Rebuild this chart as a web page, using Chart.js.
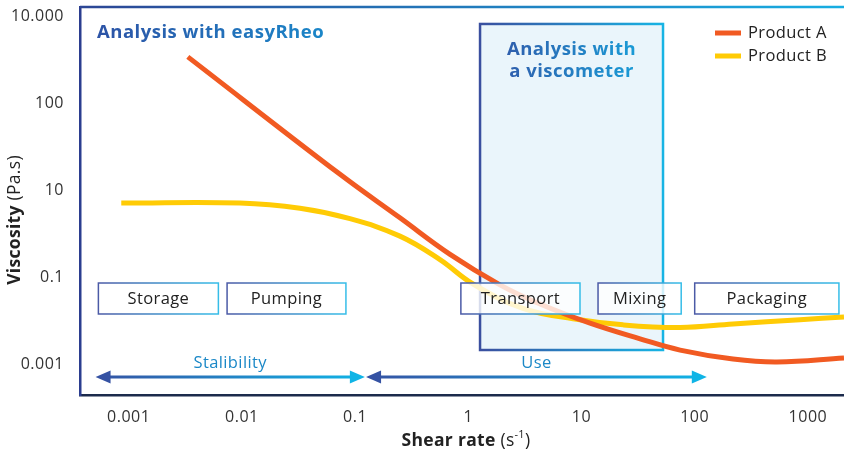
<!DOCTYPE html>
<html>
<head>
<meta charset="utf-8">
<script src="https://cdn.jsdelivr.net/npm/chart.js@4.4.0/dist/chart.umd.min.js"></script>
<style>
  html, body { margin: 0; padding: 0; background: #fff; }
  #wrap { width: 844px; height: 454px; position: relative; }
</style>
</head>
<body>
<div id="wrap"><canvas id="viscosityChart"></canvas></div>
<script>
const FONT = '"Open Sans", sans-serif';

// shear rate in 1/s, viscosity as the step index of the y ticks
const productAShear = [0.00333, 0.0736, 0.249, 0.69, 1.905, 4.3, 11.9, 32.9, 74.3, 218, 533, 2084, 2200];
const productALevel = [3.53, 2.18, 1.68, 1.26, 0.91, 0.69, 0.47, 0.29, 0.16, 0.057, 0.023, 0.069, 0.072];
const productBShear = [0.00086, 0.0096, 0.0326, 0.0901, 0.249, 0.562, 1.1, 3.04, 8.41, 23.3, 74.3, 218, 851, 2084, 2200];
const productBLevel = [1.85, 1.85, 1.79, 1.67, 1.47, 1.2, 0.92, 0.64, 0.52, 0.45, 0.42, 0.46, 0.51, 0.54, 0.545];

const xTickValues = [0.001, 0.01, 0.1, 1, 10, 100, 1000];
const xTickLabels = ['0.001', '0.01', '0.1', '1', '10', '100', '1000'];
const yTickLabels = ['0.001', '0.1', '10', '100', '10.000'];

const stageNames = ['Storage', 'Pumping', 'Transport', 'Mixing', 'Packaging'];
const stageFrom = [0.00054, 0.0074, 0.86, 14, 100];
const stageTo = [0.0062, 0.083, 9.7, 76, 1880];

const rangeNames = ['Stalibility', 'Use'];
const rangeFrom = [0.00051, 0.125];
const rangeTo = [0.122, 128];

// where the viscometer can measure
const viscometerFrom = 1.27;
const viscometerTo = 52.5;

const toPoints = (xs, ys) => xs.map((x, i) => ({ x: x, y: ys[i] }));

const hGrad = (ctx, x1, x2, c1, c2) => {
  const g = ctx.createLinearGradient(x1, 0, x2, 0);
  g.addColorStop(0, c1);
  g.addColorStop(1, c2);
  return g;
};

const drawArrow = (ctx, x1, x2, y) => {
  const head = 15;
  const half = 6.5;
  ctx.strokeStyle = hGrad(ctx, x1, x2, '#3552a3', '#0fb4e6');
  ctx.lineWidth = 3;
  ctx.beginPath();
  ctx.moveTo(x1 + head - 2, y);
  ctx.lineTo(x2 - head + 2, y);
  ctx.stroke();
  ctx.fillStyle = '#3552a3';
  ctx.beginPath();
  ctx.moveTo(x1, y);
  ctx.lineTo(x1 + head, y - half);
  ctx.lineTo(x1 + head, y + half);
  ctx.closePath();
  ctx.fill();
  ctx.fillStyle = '#0fb4e6';
  ctx.beginPath();
  ctx.moveTo(x2, y);
  ctx.lineTo(x2 - head, y - half);
  ctx.lineTo(x2 - head, y + half);
  ctx.closePath();
  ctx.fill();
};

const decorations = {
  id: 'decorations',
  beforeDraw(chart) {
    // wider lettering, closer to the original typeface
    chart.ctx.letterSpacing = '0.5px';
  },
  beforeDatasetsDraw(chart) {
    const { ctx, chartArea, scales: { x, y } } = chart;
    ctx.save();

    // viscometer window
    const bx1 = x.getPixelForValue(viscometerFrom);
    const bx2 = x.getPixelForValue(viscometerTo);
    const by1 = y.getPixelForValue(3.908);
    const by2 = y.getPixelForValue(0.161);
    ctx.fillStyle = '#eaf5fb';
    ctx.fillRect(bx1, by1, bx2 - bx1, by2 - by1);
    ctx.strokeStyle = hGrad(ctx, bx1, bx2, '#3a4f9f', '#17b4e4');
    ctx.lineWidth = 2.5;
    ctx.strokeRect(bx1, by1, bx2 - bx1, by2 - by1);

    ctx.letterSpacing = '0.5px';
    ctx.textAlign = 'center';
    ctx.textBaseline = 'middle';
    ctx.font = 'bold 18.5px ' + FONT;
    const cx = (bx1 + bx2) / 2;
    ctx.fillStyle = hGrad(ctx, cx - 65, cx + 65, '#2f5fad', '#1a9bd6');
    ctx.fillText('Analysis with', cx, by1 + 26);
    ctx.fillText('a viscometer', cx, by1 + 48);

    ctx.textAlign = 'left';
    ctx.fillStyle = hGrad(ctx, chartArea.left + 17, chartArea.left + 242, '#2d53a6', '#1b86c8');
    ctx.fillText('Analysis with easyRheo', chartArea.left + 17, chartArea.top + 26);

    // top frame line
    ctx.strokeStyle = hGrad(ctx, chartArea.left, chartArea.right, '#2c4695', '#17aee2');
    ctx.lineWidth = 2.5;
    ctx.beginPath();
    ctx.moveTo(chartArea.left, chartArea.top);
    ctx.lineTo(chartArea.right, chartArea.top);
    ctx.stroke();
    ctx.restore();
  },
  afterDatasetsDraw(chart) {
    const { ctx, chartArea, scales: { x, y } } = chart;
    ctx.save();
    ctx.letterSpacing = '0.4px';

    // process stages
    const sTop = y.getPixelForValue(0.931);
    const sBot = y.getPixelForValue(0.575);
    ctx.font = '16.5px ' + FONT;
    ctx.textAlign = 'center';
    ctx.textBaseline = 'middle';
    stageNames.forEach((name, i) => {
      const x1 = x.getPixelForValue(stageFrom[i]);
      const x2 = x.getPixelForValue(stageTo[i]);
      ctx.fillStyle = 'rgba(255,255,255,0.8)';
      ctx.fillRect(x1, sTop, x2 - x1, sBot - sTop);
      ctx.strokeStyle = hGrad(ctx, x1, x2, '#4b5aa6', '#36bde8');
      ctx.lineWidth = 1.5;
      ctx.strokeRect(x1, sTop, x2 - x1, sBot - sTop);
      ctx.fillStyle = '#222';
      ctx.fillText(name, (x1 + x2) / 2, (sTop + sBot) / 2 + 1);
    });

    // stability / use ranges
    const ay = y.getPixelForValue(-0.149);
    rangeNames.forEach((name, i) => {
      const x1 = x.getPixelForValue(rangeFrom[i]);
      const x2 = x.getPixelForValue(rangeTo[i]);
      drawArrow(ctx, x1, x2, ay);
      ctx.fillStyle = '#1b88c7';
      ctx.font = '16.5px ' + FONT;
      ctx.fillText(name, (x1 + x2) / 2, ay - 14);
    });

    // legend
    ctx.textAlign = 'left';
    ctx.font = '16.5px ' + FONT;
    chart.data.datasets.forEach((ds, i) => {
      const ly = chartArea.top + 26 + i * 23;
      ctx.fillStyle = ds.borderColor;
      ctx.fillRect(715, ly - 2.5, 26, 5);
      ctx.fillStyle = '#222';
      ctx.fillText(ds.label, 748, ly);
    });
    ctx.restore();
  },
  afterDraw(chart) {
    const { ctx } = chart;
    ctx.save();
    ctx.letterSpacing = '0.3px';
    ctx.fillStyle = '#222';
    ctx.textBaseline = 'middle';
    ctx.textAlign = 'left';

    // y title
    ctx.translate(15, 220);
    ctx.rotate(-Math.PI / 2);
    ctx.font = 'bold 17.5px ' + FONT;
    const part1 = 'Viscosity';
    const w1 = ctx.measureText(part1).width;
    ctx.font = '17.5px ' + FONT;
    const part2 = ' (Pa.s)';
    const w2 = ctx.measureText(part2).width;
    const sx = -(w1 + w2) / 2;
    ctx.font = 'bold 17.5px ' + FONT;
    ctx.fillText(part1, sx, 0);
    ctx.font = '17.5px ' + FONT;
    ctx.fillText(part2, sx + w1, 0);
    ctx.setTransform(1, 0, 0, 1, 0, 0);

    // x title
    ctx.font = 'bold 17.5px ' + FONT;
    const t1 = 'Shear rate';
    const tw1 = ctx.measureText(t1).width;
    ctx.font = '17.5px ' + FONT;
    const tw2 = ctx.measureText(' (s').width;
    ctx.font = '11px ' + FONT;
    const tw3 = ctx.measureText('-1').width;
    ctx.font = '17.5px ' + FONT;
    const tw4 = ctx.measureText(')').width;
    let tx = 466 - (tw1 + tw2 + tw3 + tw4) / 2;
    const ty = 441;
    ctx.font = 'bold 17.5px ' + FONT;
    ctx.fillText(t1, tx, ty);
    tx += tw1;
    ctx.font = '17.5px ' + FONT;
    ctx.fillText(' (s', tx, ty);
    tx += tw2;
    ctx.font = '11px ' + FONT;
    ctx.fillText('-1', tx, ty - 6);
    tx += tw3;
    ctx.font = '17.5px ' + FONT;
    ctx.fillText(')', tx, ty);
    ctx.restore();
  }
};

const ctx = document.getElementById('viscosityChart').getContext('2d');

new Chart(ctx, {
  type: 'line',
  data: {
    datasets: [
      {
        label: 'Product A',
        data: toPoints(productAShear, productALevel),
        borderColor: '#f15a22',
        backgroundColor: '#f15a22',
        borderWidth: 5,
        pointRadius: 0,
        fill: false,
        tension: 0.4
      },
      {
        label: 'Product B',
        data: toPoints(productBShear, productBLevel),
        borderColor: '#ffcb05',
        backgroundColor: '#ffcb05',
        borderWidth: 5,
        pointRadius: 0,
        fill: false,
        tension: 0.4
      }
    ]
  },
  options: {
    responsive: true,
    maintainAspectRatio: false,
    animation: false,
    layout: { padding: { top: 7, left: 0, right: 0, bottom: 0 } },
    scales: {
      x: {
        type: 'logarithmic',
        min: 0.0003715,
        max: 2084,
        grid: { display: false, drawTicks: false },
        border: { display: true, color: '#1c2b4c', width: 2.5 },
        afterBuildTicks: (scale) => {
          scale.ticks = xTickValues.map((v) => ({ value: v }));
        },
        afterFit: (scale) => {
          scale.height = 59;
          scale.paddingLeft = 0;
          scale.paddingRight = 0;
        },
        ticks: {
          autoSkip: false,
          maxRotation: 0,
          padding: 13,
          color: '#333',
          font: { family: FONT, size: 16 },
          callback: (value) => xTickLabels[xTickValues.indexOf(value)]
        }
      },
      y: {
        type: 'linear',
        min: -0.356,
        max: 4.103,
        grid: { display: false, drawTicks: false },
        border: { display: true, color: '#2b3d8f', width: 2.5 },
        afterBuildTicks: (scale) => {
          scale.ticks = yTickLabels.map((_, i) => ({ value: i }));
        },
        afterFit: (scale) => {
          scale.width = 80;
          scale.paddingTop = 0;
          scale.paddingBottom = 0;
        },
        ticks: {
          padding: 16,
          color: '#333',
          font: { family: FONT, size: 16 },
          callback: (value) => yTickLabels[value]
        }
      }
    },
    plugins: {
      legend: { display: false },
      title: { display: false },
      tooltip: { enabled: false }
    }
  },
  plugins: [decorations]
});
</script>
</body>
</html>
